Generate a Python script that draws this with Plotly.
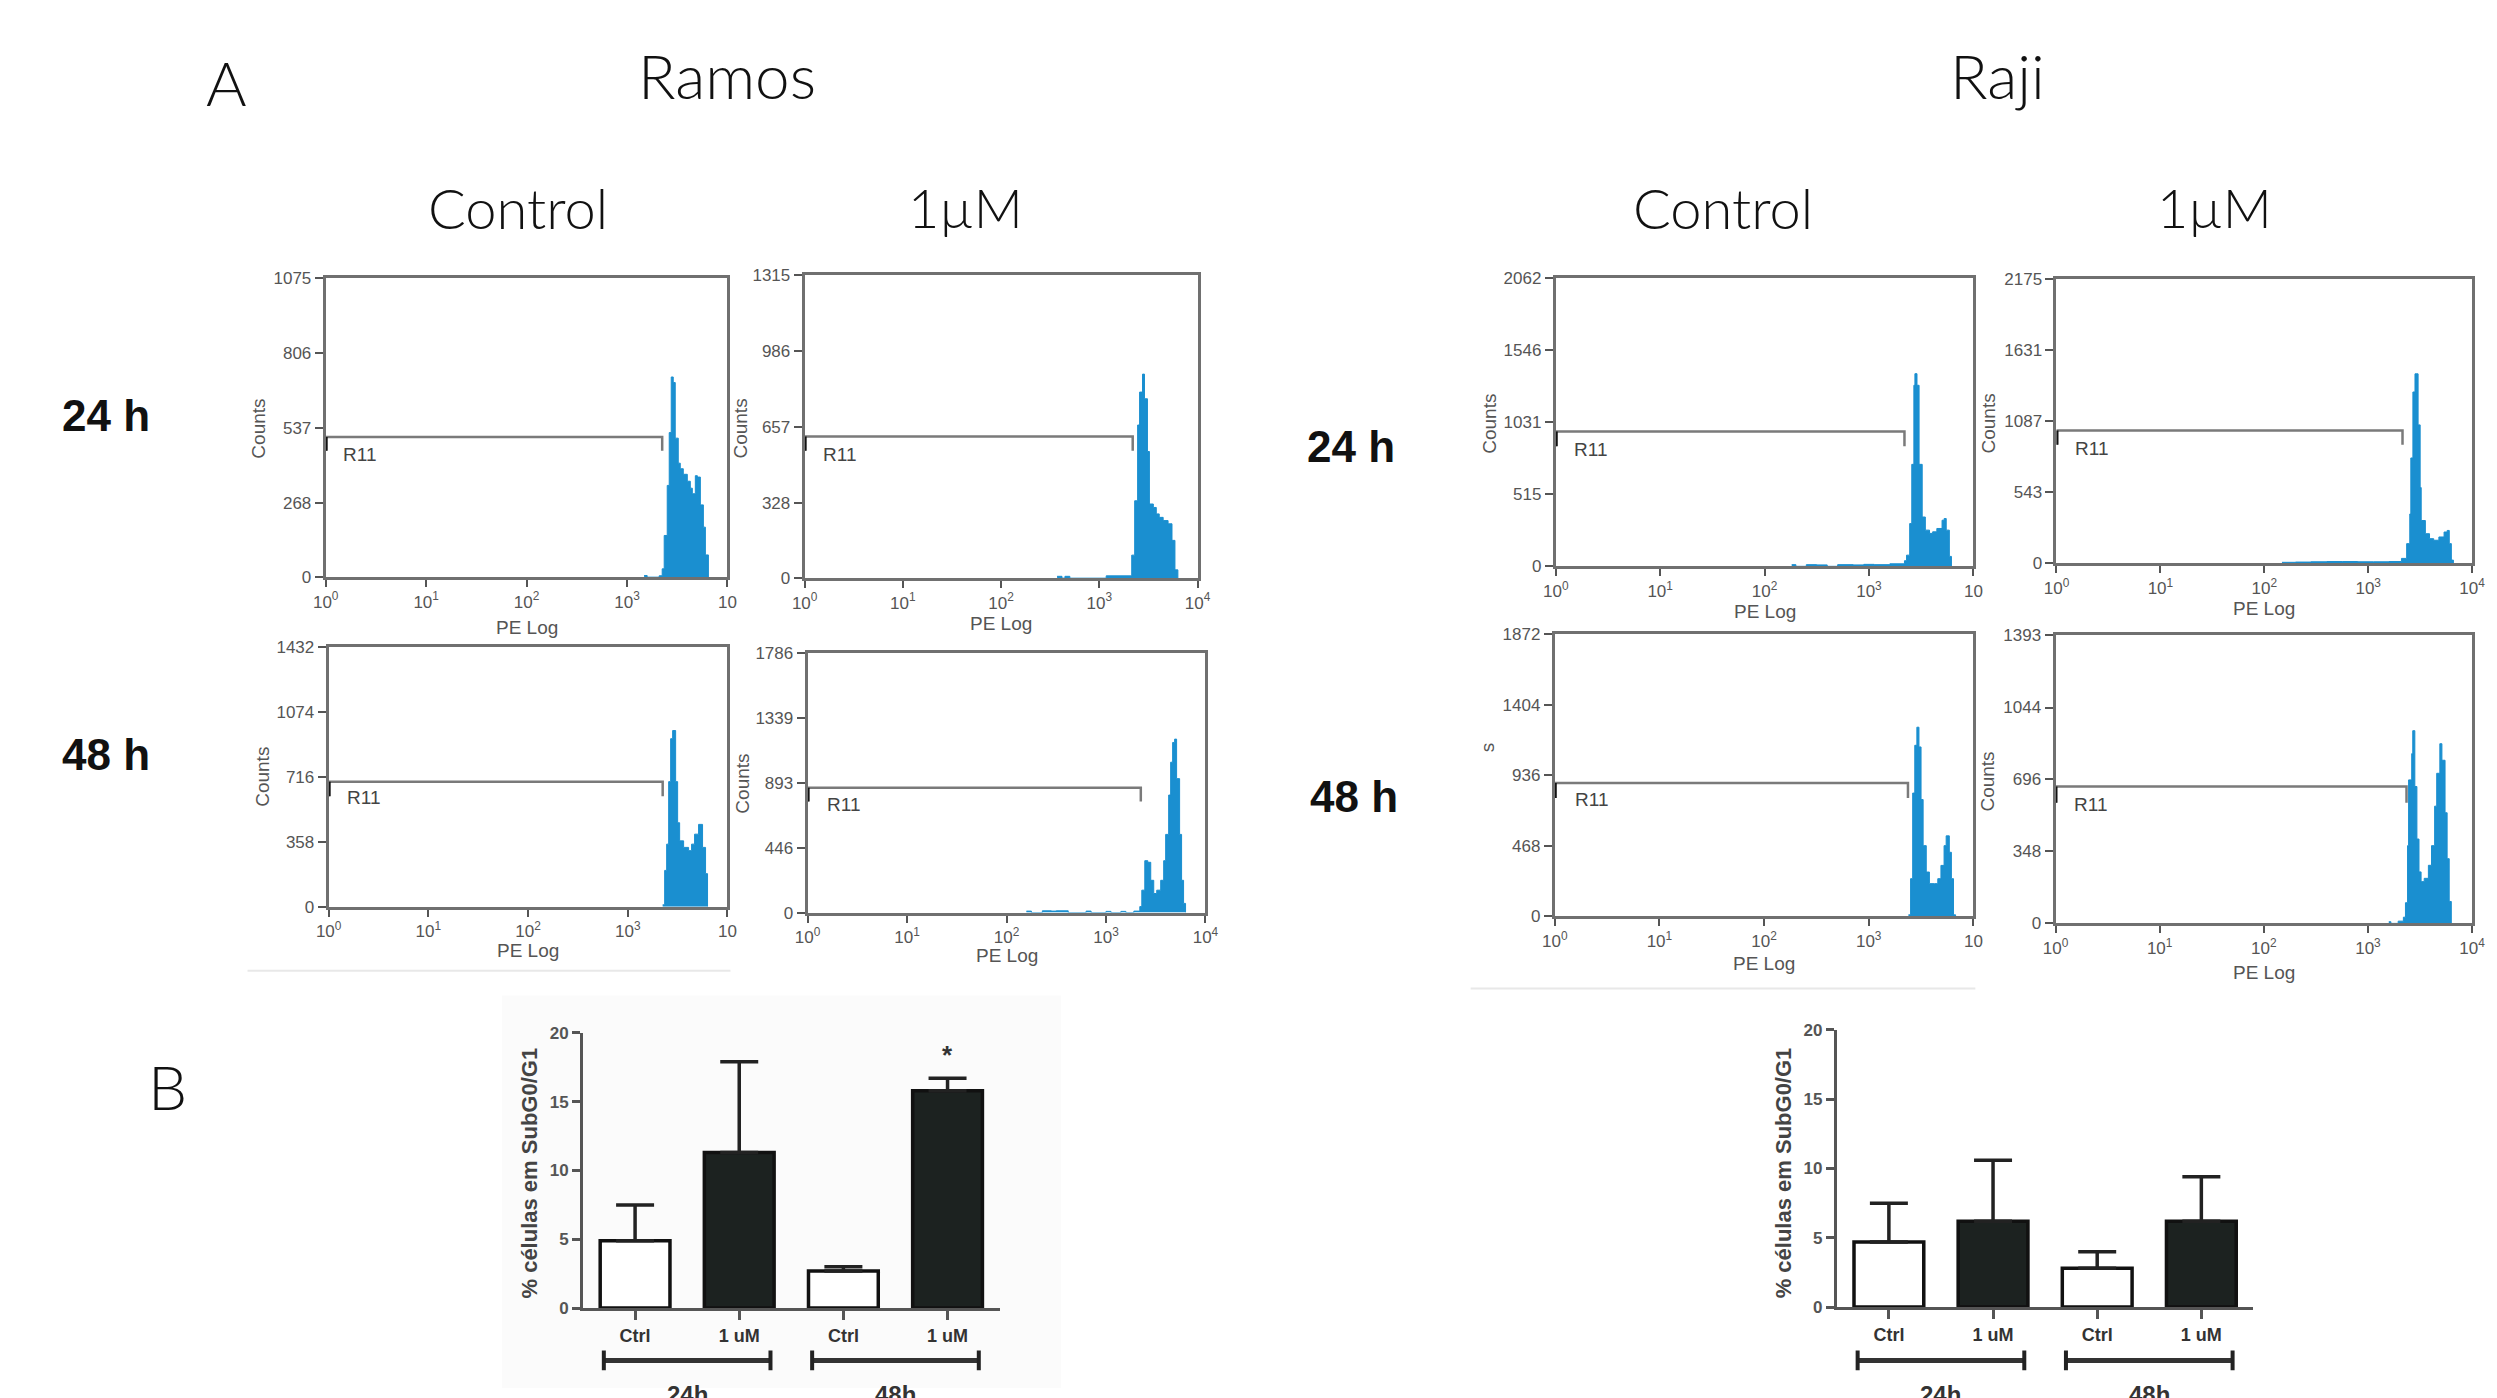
import plotly.graph_objects as go

W, H = 2497, 1398

# ---------------- DATA ----------------
# Histogram data: x positions as log10(PE), counts
ramos_ctrl_24_logx = [3.17, 3.20, 3.32, 3.35, 3.37, 3.40, 3.42, 3.44, 3.46, 3.48, 3.51, 3.53, 3.56, 3.60, 3.63, 3.65, 3.68, 3.70, 3.73, 3.76, 3.78, 3.81]
ramos_ctrl_24_counts = [6, 0, 5, 30, 150, 330, 520, 720, 700, 500, 410, 390, 370, 345, 320, 300, 365, 360, 260, 180, 80, 0]
ramos_ctrl_24_yticks = [0, 268, 537, 806, 1075]

ramos_1um_24_logx = [2.57, 2.62, 2.65, 2.70, 3.07, 3.33, 3.36, 3.39, 3.41, 3.44, 3.46, 3.49, 3.51, 3.55, 3.58, 3.61, 3.65, 3.70, 3.74, 3.77, 3.80]
ramos_1um_24_counts = [8, 0, 8, 0, 10, 100, 336, 665, 808, 886, 779, 550, 322, 307, 279, 264, 250, 236, 164, 36, 0]
ramos_1um_24_yticks = [0, 328, 657, 986, 1315]

ramos_ctrl_48_logx = [3.35, 3.37, 3.39, 3.41, 3.43, 3.45, 3.48, 3.50, 3.52, 3.56, 3.61, 3.64, 3.67, 3.71, 3.75, 3.78, 3.80]
ramos_ctrl_48_counts = [10, 200, 345, 690, 927, 972, 690, 463, 363, 327, 309, 345, 400, 454, 327, 182, 0]
ramos_ctrl_48_yticks = [0, 358, 716, 1074, 1432]

ramos_1um_48_logx = [2.20, 2.25, 2.36, 2.45, 2.50, 2.62, 2.80, 2.85, 3.00, 3.05, 3.15, 3.20, 3.28,
                     3.34, 3.36, 3.39, 3.42, 3.45, 3.48, 3.51, 3.55, 3.58, 3.60, 3.63, 3.65, 3.67, 3.69, 3.71, 3.74, 3.76, 3.78, 3.80]
ramos_1um_48_counts = [10, 0, 12, 10, 12, 0, 10, 0, 8, 0, 8, 0, 10,
                       41, 154, 357, 346, 222, 131, 154, 222, 357, 538, 809, 1035, 1171, 1194, 922, 538, 222, 63, 0]
ramos_1um_48_yticks = [0, 446, 893, 1339, 1786]

raji_ctrl_24_logx = [2.26, 2.30, 2.40, 2.50, 2.60, 2.70, 2.85, 2.95, 3.05, 3.20,
                     3.34, 3.36, 3.39, 3.41, 3.43, 3.44, 3.46, 3.48, 3.51, 3.54, 3.58, 3.61, 3.65, 3.70, 3.72, 3.74, 3.77, 3.79]
raji_ctrl_24_counts = [12, 0, 12, 10, 0, 12, 10, 14, 12, 18,
                       40, 80, 306, 730, 1296, 1379, 1296, 730, 353, 259, 236, 247, 271, 330, 342, 259, 71, 0]
raji_ctrl_24_yticks = [0, 515, 1031, 1546, 2062]

raji_1um_24_logx = [2.17, 2.30, 2.45, 2.60, 2.75, 2.90, 3.05, 3.20,
                    3.32, 3.37, 3.40, 3.41, 3.43, 3.45, 3.48, 3.50, 3.51, 3.55, 3.59, 3.63, 3.68, 3.73, 3.76, 3.78, 3.80, 3.82]
raji_1um_24_counts = [8, 10, 12, 14, 14, 12, 12, 14,
                      38, 151, 378, 807, 1312, 1451, 1060, 580, 328, 227, 189, 177, 202, 240, 252, 151, 25, 0]
raji_1um_24_yticks = [0, 543, 1087, 1631, 2175]

raji_ctrl_48_logx = [3.38, 3.40, 3.42, 3.44, 3.46, 3.48, 3.50, 3.52, 3.55, 3.58, 3.63, 3.66, 3.69, 3.72, 3.74, 3.77, 3.79, 3.81, 3.83]
raji_ctrl_48_counts = [11, 251, 819, 1136, 1256, 1125, 776, 470, 295, 218, 218, 251, 339, 470, 535, 426, 251, 11, 0]
raji_ctrl_48_yticks = [0, 468, 936, 1404, 1872]

raji_1um_48_logx = [3.20, 3.22, 3.29, 3.34, 3.36, 3.38, 3.39, 3.42, 3.43, 3.45, 3.47, 3.49, 3.51, 3.54, 3.58, 3.61, 3.64, 3.66, 3.69, 3.71, 3.74, 3.76, 3.78, 3.80]
raji_1um_48_counts = [8, 0, 11, 30, 100, 376, 694, 821, 932, 662, 408, 249, 202, 218, 281, 376, 567, 726, 869, 789, 535, 313, 106, 0]
raji_1um_48_yticks = [0, 348, 696, 1044, 1393]

# R11 gate: [end (log10), level, tick bottom, label log10 x, label y]
ramos_ctrl_24_gate = [3.35, 504, 455, 0.15, 441]
ramos_1um_24_gate = [3.34, 615, 553, 0.17, 536]
ramos_ctrl_48_gate = [3.35, 690, 609, 0.16, 600]
ramos_1um_48_gate = [3.35, 859, 764, 0.17, 741]
raji_ctrl_24_gate = [3.34, 966, 860, 0.16, 837]
raji_1um_24_gate = [3.33, 1017, 908, 0.16, 883]
raji_ctrl_48_gate = [3.375, 885, 786, 0.17, 775]
raji_1um_48_gate = [3.37, 662, 583, 0.16, 575]

x_decades = [0, 1, 2, 3, 4]

# Bar charts (% cells in SubG0/G1)
bar_labels = ["Ctrl", "1 uM", "Ctrl", "1 uM"]
bar_treatment = ["ctrl", "drug", "ctrl", "drug"]
ramos_means = [4.9, 11.3, 2.7, 15.8]
ramos_sem = [2.6, 6.6, 0.3, 0.9]
raji_means = [4.7, 6.2, 2.8, 6.2]
raji_sem = [2.8, 4.4, 1.2, 3.2]
time_groups = [("24h", 0, 1), ("48h", 2, 3)]
ramos_star = [(3, 18.4)]
bar_yticks = [0, 5, 10, 15, 20]

# ---------------- STYLE ----------------
NARROW = "Liberation Sans Narrow, Arial Narrow, Liberation Sans, Arial, sans-serif"
SANS = "Liberation Sans, Arial, sans-serif"
TITLE = "Lato, Open Sans, Noto Sans, sans-serif"
BLUE = "#1a8fd0"
AXC = "#707070"


def fx(p):
    return p / W


def fy(p):
    return 1 - p / H


# panel boxes in pixels: (left, right, top, bottom), right label cut, y label text, y-label pos, x-label offset
panels = [
    (ramos_ctrl_24_logx, ramos_ctrl_24_counts, ramos_ctrl_24_yticks, ramos_ctrl_24_gate, (316, 722, 273, 576), True, "Counts", (248, 425), 51),
    (ramos_1um_24_logx, ramos_1um_24_counts, ramos_1um_24_yticks, ramos_1um_24_gate, (800, 1197, 270, 577), False, "Counts", (735, 425), 46),
    (ramos_ctrl_48_logx, ramos_ctrl_48_counts, ramos_ctrl_48_yticks, ramos_ctrl_48_gate, (319, 722, 647, 910), True, "Counts", (252, 778), 44),
    (ramos_1um_48_logx, ramos_1um_48_counts, ramos_1um_48_yticks, ramos_1um_48_gate, (803, 1205, 653, 916), False, "Counts", (737, 785), 44),
    (raji_ctrl_24_logx, raji_ctrl_24_counts, raji_ctrl_24_yticks, raji_ctrl_24_gate, (1559, 1981, 273, 565), True, "Counts", (1492, 420), 46),
    (raji_1um_24_logx, raji_1um_24_counts, raji_1um_24_yticks, raji_1um_24_gate, (2065, 2485, 274, 562), False, "Counts", (1996, 420), 46),
    (raji_ctrl_48_logx, raji_ctrl_48_counts, raji_ctrl_48_yticks, raji_ctrl_48_gate, (1558, 1981, 634, 920), True, "s", (1490, 748), 48),
    (raji_1um_48_logx, raji_1um_48_counts, raji_1um_48_yticks, raji_1um_48_gate, (2064, 2485, 635, 927), False, "Counts", (1995, 783), 50),
]

fig = go.Figure()
layout = dict(width=W, height=H, margin=dict(l=0, r=0, t=0, b=0),
              paper_bgcolor="white", plot_bgcolor="rgba(0,0,0,0)", showlegend=False)
annotations = []
shapes = []

# background elements
shapes.append(dict(type="rect", xref="paper", yref="paper", x0=fx(494), x1=fx(1059), y0=fy(1398), y1=fy(1000),
                   fillcolor="#fbfbfb", line=dict(width=0), layer="below"))
shapes.append(dict(type="line", xref="paper", yref="paper", x0=fx(237), x1=fx(725), y0=fy(975), y1=fy(975),
                   line=dict(color="#e8e8e8", width=2), layer="below"))
shapes.append(dict(type="line", xref="paper", yref="paper", x0=fx(1473), x1=fx(1983), y0=fy(993), y1=fy(993),
                   line=dict(color="#e8e8e8", width=2), layer="below"))

for i, (logx, counts, yticks, gate, box, cut, ylab, ylab_pos, xlab_off) in enumerate(panels, start=1):
    l, r, t, b = box
    xa = "x" if i == 1 else f"x{i}"
    ya = "y" if i == 1 else f"y{i}"
    xkey = "xaxis" if i == 1 else f"xaxis{i}"
    ykey = "yaxis" if i == 1 else f"yaxis{i}"
    ticktext = [f"10<sup>{d}</sup>" for d in x_decades]
    if cut:
        ticktext[-1] = "10"
    layout[xkey] = dict(type="log", range=[x_decades[0], x_decades[-1]], domain=[fx(l), fx(r)], anchor=ya,
                        showline=True, linecolor=AXC, linewidth=3, mirror=True,
                        ticks="outside", ticklen=7, tickwidth=2, tickcolor="#555",
                        tickvals=[10 ** d for d in x_decades], ticktext=ticktext,
                        tickfont=dict(family=NARROW, size=17, color="#555"),
                        showgrid=False, zeroline=False)
    layout[ykey] = dict(range=[0, yticks[-1]], domain=[fy(b), fy(t)], anchor=xa,
                        showline=True, linecolor=AXC, linewidth=3, mirror=True,
                        ticks="outside", ticklen=8, tickwidth=2, tickcolor="#555",
                        tickvals=yticks, ticktext=[str(v) for v in yticks],
                        tickfont=dict(family=NARROW, size=17, color="#555"),
                        showgrid=False, zeroline=False)
    # histogram
    fig.add_trace(go.Scatter(x=[10 ** v for v in logx], y=counts, mode="lines",
                             line=dict(shape="hv", color=BLUE, width=1), fill="tozeroy", fillcolor=BLUE,
                             xaxis=xa, yaxis=ya, hoverinfo="skip"))
    # gate R11
    g_end, g_lvl, g_bot, g_lx, g_ly = gate
    fig.add_trace(go.Scatter(x=[1, 1, 10 ** g_end, 10 ** g_end], y=[g_bot, g_lvl, g_lvl, g_bot], mode="lines",
                             line=dict(color="#7a7a7a", width=2.5), xaxis=xa, yaxis=ya, hoverinfo="skip"))
    fig.add_trace(go.Scatter(x=[1, 1], y=[g_bot, g_lvl], mode="lines",
                             line=dict(color="#111", width=4), xaxis=xa, yaxis=ya, hoverinfo="skip"))
    annotations.append(dict(x=g_lx, y=g_ly, xref=xa, yref=ya, text="R11", showarrow=False, xanchor="left",
                            yanchor="middle", font=dict(family=NARROW, size=19, color="#444")))
    annotations.append(dict(x=fx(ylab_pos[0]), y=fy(ylab_pos[1]), xref="paper", yref="paper",
                            text=ylab, textangle=-90, showarrow=False, xanchor="center", yanchor="middle",
                            font=dict(family=NARROW, size=19, color="#555")))
    annotations.append(dict(x=fx((l + r) / 2), y=fy(b + xlab_off), xref="paper", yref="paper", text="PE Log",
                            showarrow=False, xanchor="center", yanchor="middle",
                            font=dict(family=NARROW, size=19, color="#555")))

# ---------------- BAR CHARTS ----------------
bar_sets = [
    (ramos_means, ramos_sem, (576, 997, 1038, 1317), 19, ramos_star, 522),
    (raji_means, raji_sem, (1843, 2264, 1035, 1316), 19, [], 1790),
]
for j, (means, sem, box, capw, stars, ytitle_x) in enumerate(bar_sets, start=9):
    l, r, t, b = box
    xa, ya = f"x{j}", f"y{j}"
    n = len(bar_labels)
    layout[f"xaxis{j}"] = dict(range=[-0.5, n - 0.5], domain=[fx(l), fx(r)], anchor=ya,
                               showline=True, linecolor="#555", linewidth=3,
                               ticks="outside", ticklen=9, tickwidth=3, tickcolor="#555",
                               tickvals=list(range(n)), ticktext=bar_labels,
                               tickfont=dict(family=SANS, size=18, color="#333", weight="bold"),
                               showgrid=False, zeroline=False)
    layout[f"yaxis{j}"] = dict(range=[bar_yticks[0], bar_yticks[-1]], domain=[fy(b), fy(t)], anchor=xa,
                               showline=True, linecolor="#555", linewidth=3,
                               ticks="outside", ticklen=8, tickwidth=3, tickcolor="#555",
                               tickvals=bar_yticks, ticktext=[str(v) for v in bar_yticks],
                               tickfont=dict(family=SANS, size=17, color="#555", weight="bold"),
                               showgrid=False, zeroline=False)
    fills = ["white" if tr == "ctrl" else "#1c2220" for tr in bar_treatment]
    fig.add_trace(go.Bar(x=list(range(n)), y=means, width=0.67,
                         marker=dict(color=fills, line=dict(color="#111", width=3.5)),
                         error_y=dict(type="data", array=sem, arrayminus=[0] * n, symmetric=False,
                                      color="#222", thickness=3.5, width=capw),
                         xaxis=xa, yaxis=ya, hoverinfo="skip"))
    for sx, sy in stars:
        annotations.append(dict(x=sx, y=sy, xref=xa, yref=ya, text="*", showarrow=False,
                                xanchor="center", yanchor="middle",
                                font=dict(family=SANS, size=26, color="#333", weight="bold")))
    annotations.append(dict(x=fx(ytitle_x), y=fy(1180), xref="paper", yref="paper",
                            text="% células em SubG0/G1", textangle=-90, showarrow=False,
                            xanchor="center", yanchor="middle",
                            font=dict(family=SANS, size=22, color="#444", weight="bold")))
    for name, g0, g1 in time_groups:
        x0, x1 = g0 - 0.3, g1 + 0.3
        shapes.append(dict(type="line", xref=xa, yref="paper", x0=x0, x1=x1, y0=fy(1370), y1=fy(1370),
                           line=dict(color="#333", width=5)))
        for xe in (x0, x1):
            shapes.append(dict(type="line", xref=xa, yref="paper", x0=xe, x1=xe, y0=fy(1360), y1=fy(1380),
                               line=dict(color="#222", width=4)))
        annotations.append(dict(x=(g0 + g1) / 2, y=fy(1389), xref=xa, yref="paper", text=name,
                                showarrow=False, xanchor="center", yanchor="top",
                                font=dict(family=SANS, size=24, color="#333", weight="bold")))


# ---------------- TEXT LABELS ----------------
def txt(s, x, y, size, family=TITLE, weight="normal", color="#111"):
    annotations.append(dict(x=fx(x), y=fy(y), xref="paper", yref="paper", text=s, showarrow=False,
                            xanchor="center", yanchor="middle",
                            font=dict(family=family, size=size, color=color, weight=weight)))


txt("A", 216, 74, 62, weight=300)
txt("Ramos", 722, 67, 62, weight=300)
txt("Raji", 2005, 67, 62, weight=300)
txt("Control", 510, 201, 56, weight=300)
txt("1µM", 963, 201, 54, weight=300)
txt("Control", 1728, 201, 56, weight=300)
txt("1µM", 2225, 201, 54, weight=300)
txt("24 h", 94, 412, 44, SANS, "bold")
txt("48 h", 94, 756, 44, SANS, "bold")
txt("24 h", 1352, 444, 44, SANS, "bold")
txt("48 h", 1355, 798, 44, SANS, "bold")
txt("B", 156, 1092, 62, weight=300)

layout["annotations"] = annotations
layout["shapes"] = shapes
fig.update_layout(**layout)
fig.write_html("out.html", config={"displayModeBar": False},
               post_script="document.body.style.margin='0px';document.body.style.overflow='hidden';")
